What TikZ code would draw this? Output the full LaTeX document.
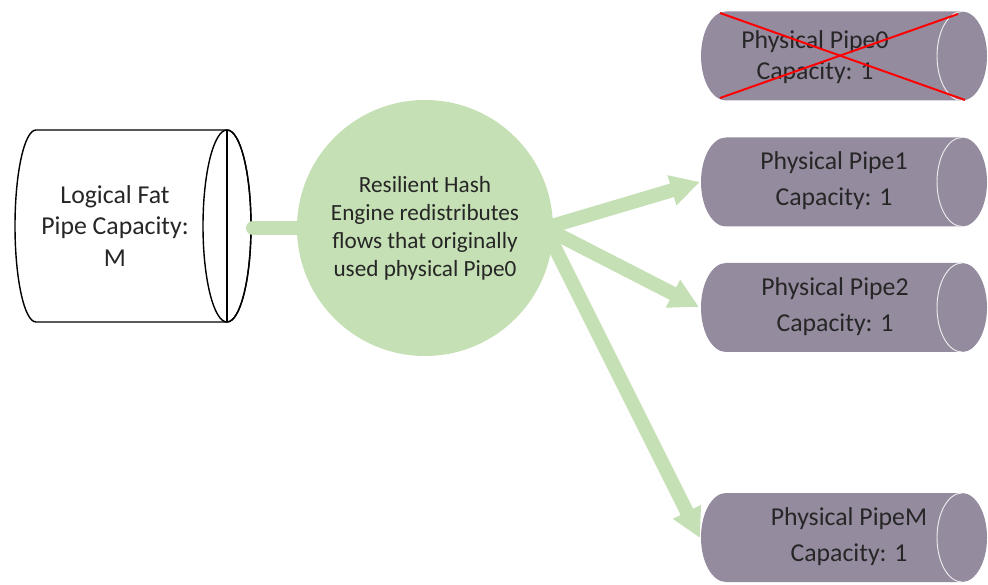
\documentclass[tikz,border=0pt]{standalone}
\usepackage{fontspec}
\setmainfont{Carlito}
\usetikzlibrary{arrows.meta}
\definecolor{hashgreen}{HTML}{C5E0B4}
\definecolor{pipegray}{HTML}{958B9F}
\definecolor{inktext}{HTML}{262626}
\begin{document}
\begin{tikzpicture}[x=0.03cm, y=0.03cm,
    pipelabel/.style={align=center, text=inktext, inner sep=0pt, font=\fontsize{22}{30.6}\selectfont},
    link/.style={line width=12pt, draw=hashgreen, line cap=round},
    flow/.style={line width=12pt, draw=hashgreen, -{Triangle[width=25pt,length=25pt]}}]
  \useasboundingbox (0,0) rectangle (988,584);
  % logical fat pipe
  \draw [line width=1.2pt, fill=white] (36,454) -- (227,454) arc [start angle=90, end angle=-90, x radius=24, y radius=96]
    -- (36,262) arc [start angle=270, end angle=90, x radius=21, y radius=96] -- cycle;
  \draw [line width=1.2pt] (227,358) ellipse [x radius=24, y radius=96];
  \draw [line width=1.2pt] (227,454) -- (227,262);
  \node [pipelabel, font=\fontsize{22}{26.9}\selectfont] (fat) at (115,358) {Logical Fat\\Pipe Capacity:\\M};
  \coordinate (fatout) at (253,356);
  % physical pipes
  \foreach \y in {528,402,276.5,46.5} {
    \fill [pipegray] (726,\y+44.5) -- (962,\y+44.5) arc [start angle=90, end angle=-90, x radius=25, y radius=44.5]
      -- (726,\y-44.5) arc [start angle=270, end angle=90, x radius=25, y radius=44.5] -- cycle;
    \draw [white!85!gray, line width=0.8pt] (962,\y+44.5) arc [start angle=90, end angle=270, x radius=25, y radius=44.5];
  }
  \node [pipelabel, font=\fontsize{22}{26.4}\selectfont] (pipe0) at (815,526.5) {Physical Pipe0\\Capacity: 1};
  \node [pipelabel] (pipe1) at (834,403.5) {Physical Pipe1\\Capacity: 1};
  \node [pipelabel] (pipe2) at (835,277.5) {Physical Pipe2\\Capacity: 1};
  \node [pipelabel] (pipeM) at (849,47.5) {Physical PipeM\\Capacity: 1};
  \draw [red, line width=1.7pt] (720,571) -- (965,484);
  \draw [red, line width=1.7pt] (720,486) -- (958,570);
  \coordinate (in1) at (700,402);
  \coordinate (in2) at (699,277);
  \coordinate (inM) at (700,46);
  % hash engine
  \node [circle, fill=hashgreen, minimum size=7.68cm, inner sep=0pt, align=center, text=inktext,
    font=\fontsize{19.8}{24}\selectfont] (hash) at (425,356) {Resilient Hash\\Engine redistributes\\flows that originally\\used physical Pipe0};
  \coordinate (hub) at (545,356);
  \draw [link] (fatout) -- (hash.west);
  \draw [flow] (hub) -- (in1);
  \draw [flow] (hub) -- (in2);
  \draw [flow] (hub) -- (inM);
\end{tikzpicture}
\end{document}
